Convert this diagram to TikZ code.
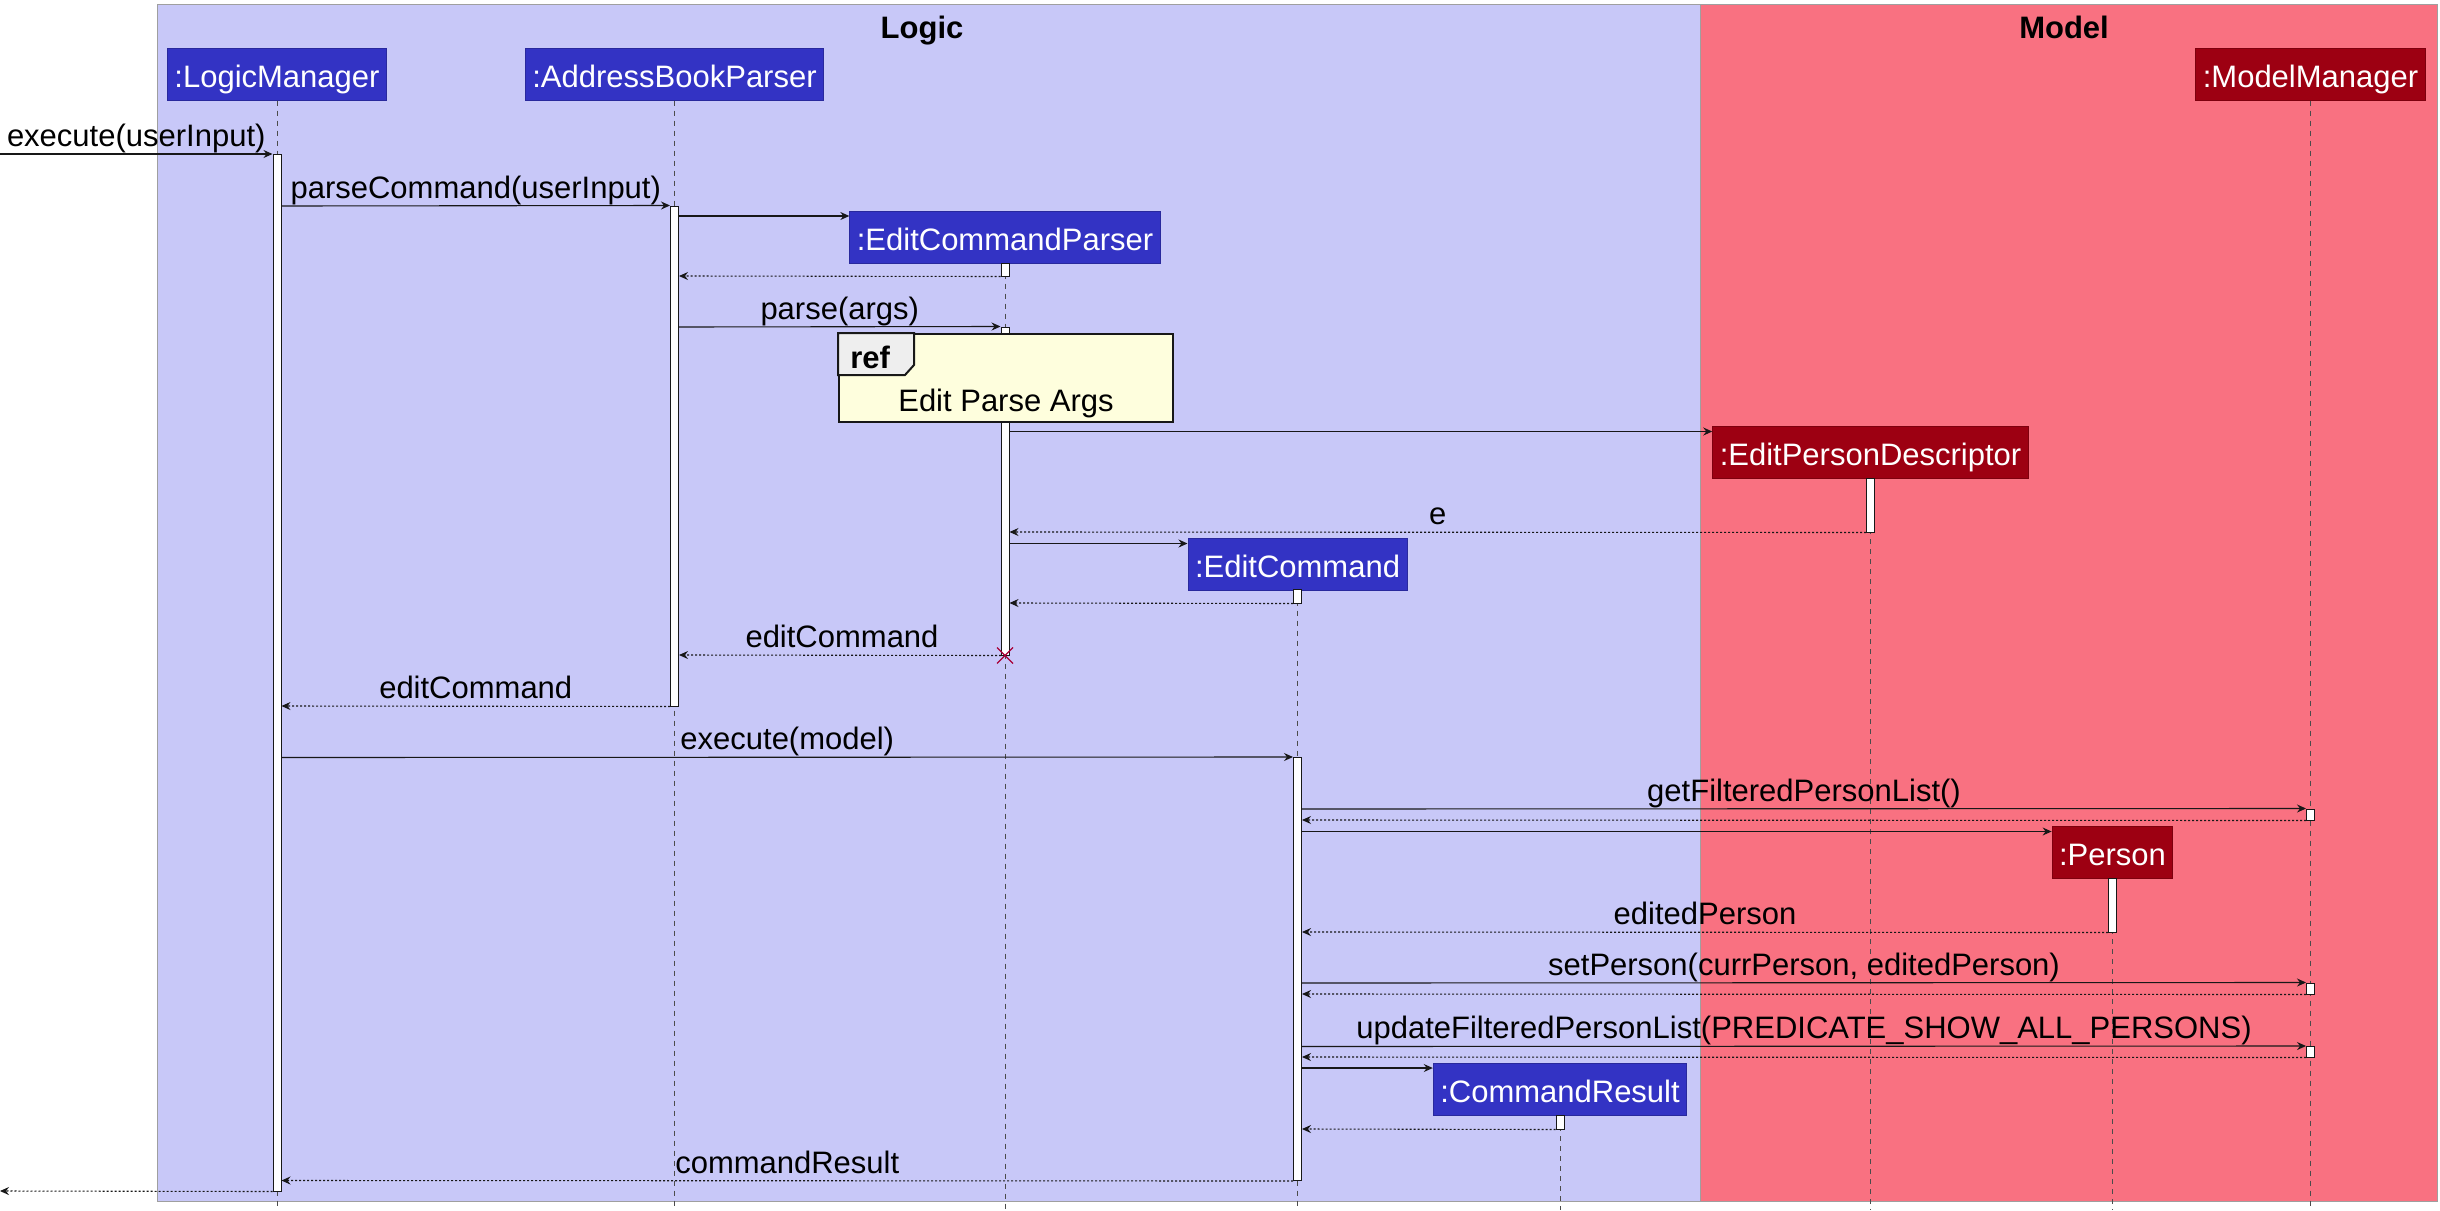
\documentclass[tikz,border=0pt]{standalone}
\usepackage{fontspec}
\setmainfont{Liberation Sans}
\usetikzlibrary{positioning, arrows.meta, fit, calc}

\definecolor{logicbg}{RGB}{200,200,248}
\definecolor{modelbg}{RGB}{249,113,129}
\definecolor{logicblue}{RGB}{51,51,196}
\definecolor{modelred}{RGB}{157,0,18}
\definecolor{linecol}{RGB}{24,24,24}
\definecolor{refbg}{RGB}{254,254,221}
\definecolor{reftabbg}{RGB}{238,238,238}
\definecolor{killcol}{RGB}{168,0,54}

\newcommand{\diafont}{\fontsize{15.5}{18}\selectfont}

\begin{document}
\begin{tikzpicture}[x=0.5pt, y=-0.5pt,
    every node/.style={font=\diafont},
    region/.style={draw=gray!75, line width=0.5pt},
    title/.style={font=\diafont\bfseries, anchor=base, inner sep=0pt},
    obj/.style={rectangle, inner xsep=3.5pt, inner ysep=0pt, minimum height=26pt, text height=13.3pt, text depth=0pt, text=white, line width=0.5pt},
    logicobj/.style={obj, fill=logicblue, draw=logicblue!80!black},
    modelobj/.style={obj, fill=modelred, draw=modelred!80!black},
    lifeline/.style={draw=gray!60!black, line width=0.5pt, dash pattern=on 2.5pt off 2.5pt},
    act/.style={draw=linecol, fill=white, line width=0.5pt, inner xsep=2pt, inner ysep=0pt},
    msg/.style={draw=linecol, line width=0.55pt, -{Stealth[length=4.5pt, width=4pt, inset=1.5pt]}},
    ret/.style={msg, dash pattern=on 1pt off 1pt},
    lbl/.style={anchor=base, yshift=3.8pt, inner sep=0pt},
    refframe/.style={draw=linecol, line width=1pt, fill=refbg, minimum width=167pt, minimum height=44pt, inner sep=0pt},
    kill/.style={draw=killcol, line width=0.6pt}]

  \useasboundingbox (0,0) rectangle (2440,1210);

  % boxes for the two packages
  \fill[logicbg] (157,4) rectangle (1700,1201);
  \fill[modelbg] (1700,4) rectangle (2437,1201);
  \draw[region] (157,4) rectangle (1700,1201);
  \draw[region] (1700,4) rectangle (2437,1201);
  \node[title] (logic) at (922,38) {Logic};
  \node[title] (model) at (2064,38) {Model};

  \coordinate (bot) at (0,1210);
  \coordinate (in) at (0,154);
  \coordinate (out) at (0,1191);

  % participants
  \node[logicobj] (lm) at (277,74) {:LogicManager};
  \node[logicobj] (abp) at (674.5,74) {:AddressBookParser};
  \node[modelobj] (mm) at (2310.5,74) {:ModelManager};
  \node[logicobj] (ecp) at (1005,237) {:EditCommandParser};
  \node[modelobj] (epd) at (1870.5,452.5) {:EditPersonDescriptor};
  \node[logicobj] (ec) at (1297.5,564) {:EditCommand};
  \node[modelobj] (pers) at (2112.5,852.5) {:Person};
  \node[logicobj] (cr) at (1560,1089.5) {:CommandResult};

  \foreach \p in {lm, abp, mm, ecp, epd, ec, pers, cr}
    \draw[lifeline] (\p.south) -- (\p.south |- bot);

  % activations
  \node[act, fit={(277,154) (277,1191)}] (lmact) {};
  \node[act, fit={(674.5,206) (674.5,706)}] (abpact) {};
  \node[act, fit={(1005,263) (1005,276)}] (ecpact1) {};
  \node[act, fit={(1005,327) (1005,655)}] (ecpact2) {};
  \node[act, fit={(1870.5,478) (1870.5,532)}] (epdact) {};
  \node[act, fit={(1297.5,589) (1297.5,603)}] (ecact1) {};
  \node[act, fit={(1297.5,757.5) (1297.5,1180.5)}] (ecact2) {};
  \node[act, fit={(2310.5,809) (2310.5,820)}] (mmact1) {};
  \node[act, fit={(2112.5,878) (2112.5,932)}] (persact) {};
  \node[act, fit={(2310.5,983) (2310.5,994)}] (mmact2) {};
  \node[act, fit={(2310.5,1046.5) (2310.5,1057)}] (mmact3) {};
  \node[act, fit={(1560,1115.5) (1560,1129)}] (cract) {};

  % ref frame
  \node[refframe] (ref) at (1006,378) {};
  \filldraw[draw=linecol, line width=1pt, fill=reftabbg] (ref.north west) -- ++(76,0) -- ++(0,32) -- ++(-9,10) -- ++(-67,0) -- cycle;
  \node[font=\diafont\bfseries, anchor=base west, inner sep=0pt] (reftag) at (850,368) {ref};
  \node[anchor=base, inner sep=0pt] (reftext) at (1006,411.5) {Edit Parse Args};

  % messages
  \draw[msg] (in) -- node[lbl]{execute(userInput)} (lmact.west |- in);
  \draw[msg] (lmact.east |- 0,206) -- node[lbl]{parseCommand(userInput)} (abpact.north west);
  \draw[msg] (abpact.east |- 0,216) -- (ecp.west |- 0,216);
  \draw[ret] (ecpact1.south west) -- (abpact.east |- 0,276);
  \draw[msg] (abpact.east |- 0,327) -- node[lbl]{parse(args)} (ecpact2.north west);
  \draw[msg] (ecpact2.east |- 0,431.5) -- (epd.west |- 0,431.5);
  \draw[ret] (epdact.south west) -- node[lbl]{e} (ecpact2.east |- 0,532);
  \draw[msg] (ecpact2.east |- 0,543.5) -- (ec.west |- 0,543.5);
  \draw[ret] (ecact1.south west) -- (ecpact2.east |- 0,603);
  \draw[ret] (ecpact2.south) -- node[lbl]{editCommand} (abpact.east |- 0,655);
  \draw[ret] (abpact.south west) -- node[lbl]{editCommand} (lmact.east |- 0,706);
  \draw[msg] (lmact.east |- 0,757.5) -- node[lbl]{execute(model)} (ecact2.north west);
  \draw[msg] (ecact2.east |- 0,809) -- node[lbl]{getFilteredPersonList()} (mmact1.north west);
  \draw[ret] (mmact1.south west) -- (ecact2.east |- 0,820);
  \draw[msg] (ecact2.east |- 0,831.5) -- (pers.west |- 0,831.5);
  \draw[ret] (persact.south west) -- node[lbl]{editedPerson} (ecact2.east |- 0,932);
  \draw[msg] (ecact2.east |- 0,983) -- node[lbl]{setPerson(currPerson, editedPerson)} (mmact2.north west);
  \draw[ret] (mmact2.south west) -- (ecact2.east |- 0,994);
  \draw[msg] (ecact2.east |- 0,1046.5) -- node[lbl]{updateFilteredPersonList(PREDICATE\_SHOW\_ALL\_PERSONS)} (mmact3.north west);
  \draw[ret] (mmact3.south west) -- (ecact2.east |- 0,1057);
  \draw[msg] (ecact2.east |- 0,1068) -- (cr.west |- 0,1068);
  \draw[ret] (cract.south west) -- (ecact2.east |- 0,1129);
  \draw[ret] (ecact2.south west) -- node[lbl]{commandResult} (lmact.east |- 0,1180.5);
  \draw[ret] (lmact.south west) -- (out);

  % end of the parser
  \draw[kill] ($(ecpact2.south)+(-8,-8)$) -- ($(ecpact2.south)+(8,8)$);
  \draw[kill] ($(ecpact2.south)+(-8,8)$) -- ($(ecpact2.south)+(8,-8)$);
\end{tikzpicture}
\end{document}
